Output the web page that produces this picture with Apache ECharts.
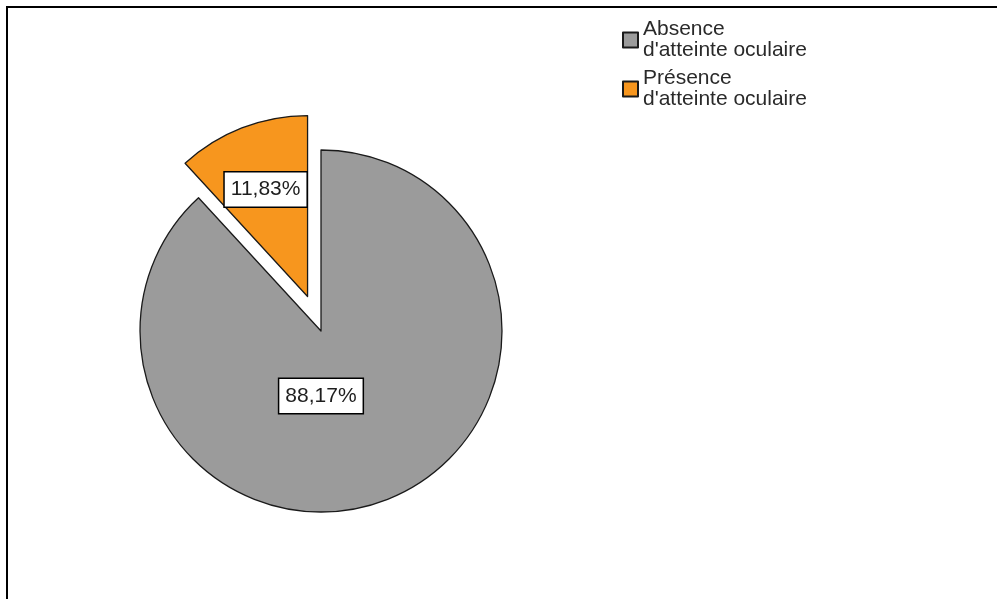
<!DOCTYPE html>
<html>
<head>
<meta charset="utf-8">
<script src="https://cdn.jsdelivr.net/npm/echarts@6/dist/echarts.min.js"></script>
<style>
  html, body { margin: 0; padding: 0; background: #fff; }
  #chart { width: 997px; height: 599px; }
</style>
</head>
<body>
<div id="chart"></div>
<script>
// Répartition des patients selon l'atteinte oculaire (%)
const categories = ["Absence\nd'atteinte oculaire", "Présence\nd'atteinte oculaire"];
const values = [88.17, 11.83];
const colors = ['#9b9b9b', '#f7961e'];

const fontFamily = '"Liberation Sans", Arial, sans-serif';

const chart = echarts.init(document.getElementById('chart'), null, { renderer: 'canvas' });

// Fine position tweaks for the two percentage boxes
const labelShift = [
  { dx: -34, dy: -22 },
  { dx: -8, dy: -20 }
];

chart.setOption({
  animation: false,
  backgroundColor: '#ffffff',
  graphic: [
    {
      type: 'rect',
      shape: { x: 7, y: 7, width: 1200, height: 800 },
      style: { fill: 'none', stroke: '#000', lineWidth: 2 },
      silent: true
    }
  ],
  legend: {
    orient: 'vertical',
    left: 622,
    top: 19,
    padding: 0,
    itemGap: 7,
    itemWidth: 15,
    itemHeight: 15,
    icon: 'rect',
    selectedMode: false,
    textStyle: {
      fontFamily: fontFamily,
      fontSize: 21,
      lineHeight: 21,
      color: '#2a2a2a'
    },
    data: categories
  },
  series: [
    {
      type: 'pie',
      center: [321, 331],
      radius: 181,
      startAngle: 90,
      clockwise: true,
      selectedMode: 'multiple',
      selectedOffset: 37,
      avoidLabelOverlap: false,
      itemStyle: { borderColor: '#1a1a1a', borderWidth: 1.3 },
      emphasis: { disabled: true },
      label: {
        show: true,
        position: 'inside',
        formatter: p => p.value.toFixed(2).replace('.', ',') + '%',
        fontFamily: fontFamily,
        fontSize: 21,
        lineHeight: 24,
        color: '#1e1e1e',
        backgroundColor: '#ffffff',
        borderColor: '#000000',
        borderWidth: 1.5,
        padding: [5, 6]
      },
      labelLine: { show: false },
      labelLayout: p => labelShift[p.dataIndex],
      data: categories.map((name, i) => ({
        name: name,
        value: values[i],
        selected: i === 1,
        itemStyle: { color: colors[i] }
      }))
    }
  ]
});
</script>
</body>
</html>
